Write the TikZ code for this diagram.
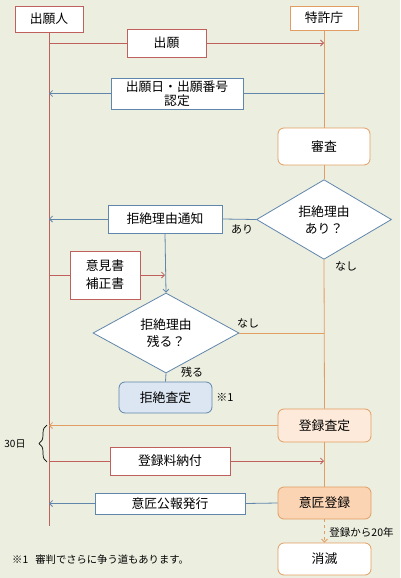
\documentclass[tikz,border=0pt]{standalone}
\usepackage{fontspec}
\setmainfont{Noto Sans CJK JP}
\usetikzlibrary{arrows.meta,shapes.geometric,decorations.pathreplacing}
\definecolor{bg}{RGB}{236,238,224}
\definecolor{redl}{RGB}{192,96,92}
\definecolor{orl}{RGB}{226,158,98}
\definecolor{bll}{RGB}{96,134,172}
\definecolor{blfill}{RGB}{220,230,242}
\definecolor{pchfill}{RGB}{253,234,218}
\definecolor{orfill}{RGB}{251,212,180}
\tikzset{
  box/.style={draw, fill=white, inner sep=0pt, align=center, font=\fontsize{12.8}{15}\selectfont, line width=0.8pt},
  rbox/.style={box, draw=redl},
  obox/.style={box, draw=orl},
  bbox/.style={box, draw=bll},
  rnd/.style={box, draw=orl, rounded corners=6pt},
  dia/.style={draw=bll, fill=white, diamond, inner sep=0pt, align=center, font=\fontsize{12.8}{17}\selectfont, line width=0.8pt},
  rline/.style={draw=redl, line width=0.8pt},
  oline/.style={draw=orl, line width=0.8pt},
  bline/.style={draw=bll, line width=0.8pt},
  tip/.style={-{Straight Barb[length=3pt,width=6pt]}},
  lbl/.style={font=\fontsize{11}{12}\selectfont, inner sep=0pt}
}
\begin{document}
\begin{tikzpicture}[x=1pt,y=-1pt]
\fill[bg] (0,0) rectangle (400,578);
\useasboundingbox (0,0) rectangle (400,578);
% actors
\node[rbox, minimum width=68pt, minimum height=26pt] (jin) at (49,19) {出願人};
\node[obox, minimum width=68pt, minimum height=24pt] (tok) at (324,18) {特許庁};
\coordinate (jend) at (49,526);
% boxes
\node[rbox, minimum width=79pt, minimum height=28pt] (shutsugan) at (166.5,43) {出願};
\node[bbox, minimum width=132pt, minimum height=31pt, font=\fontsize{12.8}{14.5}\selectfont] (nintei) at (177,93.5) {出願日・出願番号\\認定};
\node[rnd, minimum width=92pt, minimum height=37pt] (shinsa) at (324,146.5) {審査};
\node[dia, minimum width=135pt, minimum height=67pt] (d1) at (324,219.5) {拒絶理由\\あり？};
\node[bbox, minimum width=114pt, minimum height=28pt] (tsuchi) at (165,219) {拒絶理由通知};
\node[rbox, minimum width=70pt, minimum height=48pt, font=\fontsize{12.8}{18}\selectfont] (iken) at (105,275) {意見書\\補正書};
\node[dia, minimum width=146pt, minimum height=66pt] (d2) at (166,333) {拒絶理由\\残る？};
\node[box, draw=bll, fill=blfill, rounded corners=6pt, minimum width=93pt, minimum height=31pt] (kyozatei) at (165.5,397.5) {拒絶査定};
\node[rnd, fill=pchfill, minimum width=93pt, minimum height=33pt] (toroku) at (324.5,425.5) {登録査定};
\node[rbox, minimum width=120pt, minimum height=28pt] (nofu) at (170,461) {登録料納付};
\node[bbox, minimum width=150pt, minimum height=21pt] (koho) at (170,503.5) {意匠公報発行};
\node[rnd, fill=orfill, minimum width=93pt, minimum height=32pt] (isho) at (324.5,503) {意匠登録};
\node[rnd, minimum width=93pt, minimum height=32pt] (shometsu) at (324.5,559) {消滅};
% lifelines
\draw[rline] (jin.south) -- (jend);
\draw[oline] (tok.south) -- (shinsa.north);
\draw[oline] (shinsa.south) -- (d1.north);
\draw[oline] (d1.south) -- (toroku.north);
\draw[oline] (toroku.south) -- (isho.north);
% messages
\draw[rline] (jin.south |- shutsugan.west) -- (shutsugan.west);
\draw[rline,tip] (shutsugan.east) -- (tok.south |- shutsugan.east);
\draw[bline] (tok.south |- nintei.east) -- (nintei.east);
\draw[bline,tip] (nintei.west) -- (jin.south |- nintei.west);
\draw[bline] (d1.west) -- (tsuchi.east);
\draw[bline,tip] (tsuchi.west) -- (jin.south |- tsuchi.west);
\draw[bline,tip] (tsuchi.south) -- (d2.north);
\draw[rline] (jin.south |- iken.west) -- (iken.west);
\draw[rline,tip] (iken.east) -- (tsuchi.south |- iken.east);
\draw[oline] (d2.east) -- (tok.south |- d2.east);
\draw[bline] (d2.south) -- (kyozatei.north);
\draw[oline,tip] (toroku.west) -- (jin.south |- toroku.west);
\draw[rline] (jin.south |- nofu.west) -- (nofu.west);
\draw[rline,tip] (nofu.east) -- (tok.south |- nofu.east);
\draw[bline] (isho.west) -- (koho.east);
\draw[bline,tip] (koho.west) -- (jin.south |- koho.west);
\draw[oline,tip,dashed] (isho.south) -- (shometsu.north);
% labels
\node[lbl] (l_ari) at (242,229) {あり};
\node[lbl] (l_nashi1) at (346,266) {なし};
\node[lbl] (l_nashi2) at (248,323) {なし};
\node[lbl] (l_nokoru) at (192,372) {残る};
\node[lbl] (l_kome) at (225,397) {※1};
\node[lbl, font=\fontsize{10.5}{12}\selectfont] (l_20) at (361.5,532) {登録から20年};
\node[lbl, font=\fontsize{10}{12}\selectfont] (l_30) at (15,444) {30日};
\node[lbl, font=\fontsize{10.3}{12}\selectfont, anchor=west] (note) at (12,560) {※1\hspace{0.7em}審判でさらに争う道もあります。};
% brace
\coordinate (bt) at (47,425);
\coordinate (bb) at (47,462);
\draw[line width=0.7pt, decorate, decoration={brace, amplitude=8pt}] (bb) -- (bt);
\end{tikzpicture}
\end{document}
